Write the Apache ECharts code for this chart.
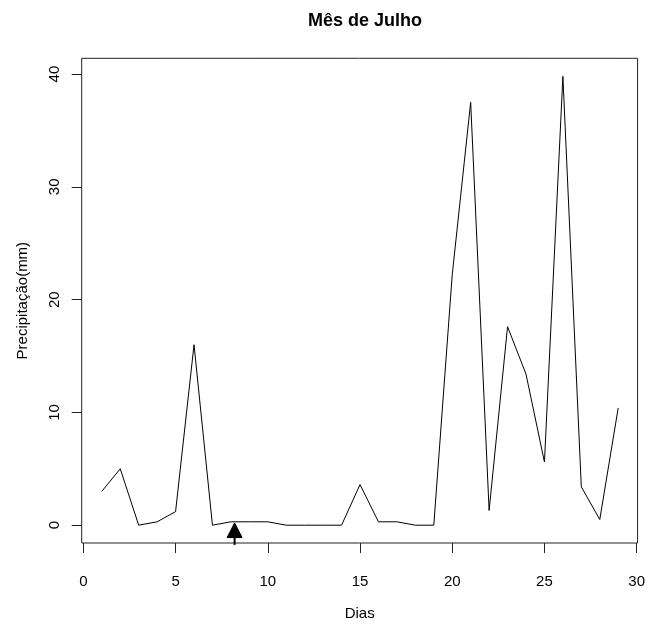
<!DOCTYPE html>
<html>
<head>
<meta charset="utf-8">
<script src="https://cdn.jsdelivr.net/npm/echarts@6/dist/echarts.min.js"></script>
<style>
  html, body { margin: 0; padding: 0; background: #fff; }
  #chart { width: 648px; height: 626px; }
</style>
</head>
<body>
<div id="chart"></div>
<script>
// Daily rainfall for July
const days = [1, 2, 3, 4, 5, 6, 7, 8, 9, 10, 11, 12, 13, 14, 15, 16, 17, 18, 19, 20, 21, 22, 23, 24, 25, 26, 27, 28, 29];
const rainfall = [3.0, 5.0, 0, 0.3, 1.2, 16.0, 0, 0.3, 0.3, 0.3, 0, 0, 0, 0, 3.6, 0.3, 0.3, 0, 0, 22.2, 37.5, 1.3, 17.6, 13.4, 5.6, 39.8, 3.4, 0.5, 10.4];

// Tick values
const xTicks = [0, 5, 10, 15, 20, 25, 30];
const yTicks = [0, 10, 20, 30, 40];

// Upward arrow marking a day on the baseline (x, tip, head base, tail)
const arrowDay = 8.2;
const arrowTip = 0.2;
const arrowHeadBase = -1.1;
const arrowTail = -1.75;

const FONT = '"Liberation Sans", Arial, Helvetica, sans-serif';

const chart = echarts.init(document.getElementById('chart'), null, { renderer: 'canvas' });

chart.setOption({
  animation: false,
  backgroundColor: '#fff',
  title: {
    text: 'Mês de Julho',
    left: 360,
    top: 7,
    textAlign: 'center',
    textStyle: { fontFamily: FONT, fontSize: 18, fontWeight: 'bold', color: '#000' }
  },
  grid: {
    left: 81.7,
    top: 58.3,
    right: 9.7,
    bottom: 78.7,
    show: true,
    borderColor: '#222',
    borderWidth: 1,
    backgroundColor: 'transparent'
  },
  xAxis: {
    type: 'value',
    min: -0.09,
    max: 30.05,
    name: 'Dias',
    nameLocation: 'middle',
    nameGap: 63,
    nameTextStyle: { fontFamily: FONT, fontSize: 15, color: '#000' },
    splitLine: { show: false },
    axisLine: { show: false, onZero: false },
    axisTick: { show: true, inside: false, length: 10, customValues: xTicks, lineStyle: { color: '#222', width: 1 } },
    axisLabel: { customValues: xTicks, margin: 31, fontFamily: FONT, fontSize: 15, color: '#000' }
  },
  yAxis: {
    type: 'value',
    min: -1.58,
    max: 41.4,
    name: 'Precipitação(mm)',
    nameLocation: 'middle',
    nameGap: 51,
    nameTextStyle: { fontFamily: FONT, fontSize: 15, color: '#000' },
    splitLine: { show: false },
    axisLine: { show: false, onZero: false },
    axisTick: { show: true, inside: false, length: 10, customValues: yTicks, lineStyle: { color: '#222', width: 1 } },
    axisLabel: { customValues: yTicks, rotate: 90, margin: 19, fontFamily: FONT, fontSize: 15, color: '#000' }
  },
  series: [
    {
      type: 'line',
      data: days.map((d, i) => [d, rainfall[i]]),
      showSymbol: false,
      symbol: 'none',
      lineStyle: { color: '#000', width: 1 },
      z: 3
    },
    {
      type: 'custom',
      clip: false,
      z: 4,
      data: [[arrowDay, arrowTip, arrowHeadBase, arrowTail]],
      renderItem: function (params, api) {
        const tip = api.coord([api.value(0), api.value(1)]);
        const base = api.coord([api.value(0), api.value(2)]);
        const tail = api.coord([api.value(0), api.value(3)]);
        const half = 7.5;
        return {
          type: 'group',
          children: [
            {
              type: 'line',
              shape: { x1: tail[0], y1: tail[1], x2: base[0], y2: base[1] },
              style: { stroke: '#000', lineWidth: 2 }
            },
            {
              type: 'polygon',
              shape: { points: [[tip[0], tip[1]], [base[0] - half, base[1]], [base[0] + half, base[1]]] },
              style: { fill: '#000', stroke: '#000', lineWidth: 1 }
            }
          ]
        };
      }
    }
  ]
});
</script>
</body>
</html>
